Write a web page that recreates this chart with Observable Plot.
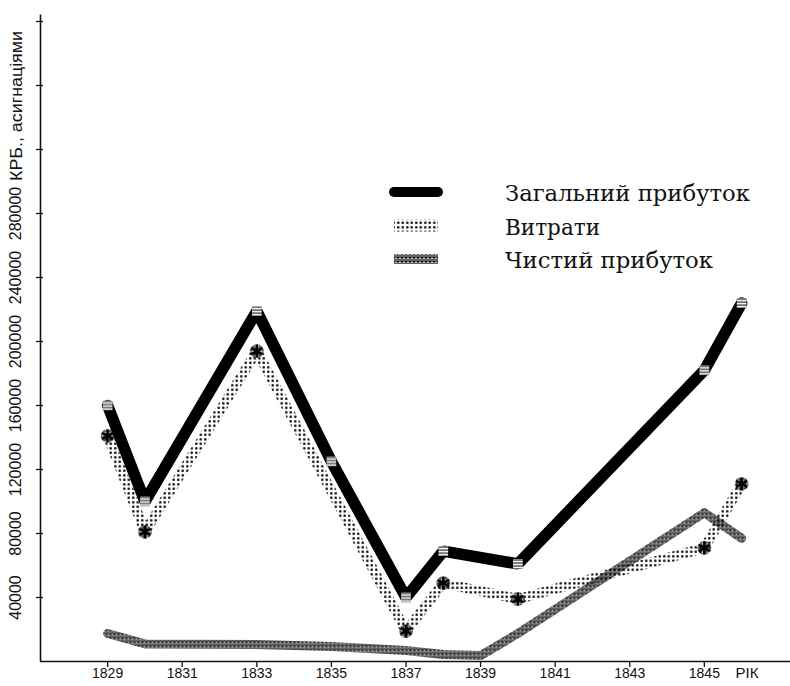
<!DOCTYPE html>
<html><head><meta charset="utf-8">
<script src="https://cdn.jsdelivr.net/npm/d3@7"></script>
<script src="https://cdn.jsdelivr.net/npm/@observablehq/plot@0.6"></script>
<style>
body{margin:0;background:#fff;}
#wrap{position:relative;width:790px;height:686px;overflow:hidden;}
#legend{position:absolute;left:0;top:0;pointer-events:none;}
</style></head><body><div id="wrap"></div>
<script>
// ---- data ----
const years = [1829, 1830, 1833, 1835, 1837, 1838, 1840, 1845, 1846];
const totalIncome = [160000, 100000, 219000, 125000, 40000, 69000, 61000, 182000, 224000];
const expenseYears = [1829, 1830, 1833, 1837, 1838, 1840, 1845, 1846];
const expenses = [141000, 81000, 194000, 19000, 49000, 39000, 71000, 111000];
const netYears = [1829, 1830, 1833, 1835, 1837, 1838, 1839, 1840, 1845, 1846];
const netIncome = [17500, 11000, 10600, 9400, 6900, 4400, 3700, 17500, 93000, 77000];
const seriesNames = ["Загальний прибуток", "Витрати", "Чистий прибуток"];
const xTickYears = [1829, 1831, 1833, 1835, 1837, 1839, 1841, 1843, 1845];
const yTickValues = [40000, 80000, 120000, 160000, 200000, 240000, 280000, 320000, 360000, 400000];
const yLabelValues = [40000, 80000, 120000, 160000, 200000, 240000, 280000];
const yTitle = "КРБ., асигнаціями";
const xTitle = "РІК";

const xDomain = [1827.2, 1847.31];
const yDomain = [0, 400000];

const total = years.map((year, i) => ({year, value: totalIncome[i]}));
const exp = expenseYears.map((year, i) => ({year, value: expenses[i]}));
const net = netYears.map((year, i) => ({year, value: netIncome[i]}));

const sans = "'Liberation Sans', Arial, sans-serif";

const chart = Plot.plot({
  width: 790, height: 686,
  marginLeft: 40, marginRight: 0, marginTop: 21, marginBottom: 25,
  x: {domain: xDomain, axis: null, label: null},
  y: {domain: yDomain, axis: null, label: null},
  style: {background: "white", fontFamily: sans, color: "#111"},
  marks: [
    Plot.ruleY([yDomain[0]], {stroke: "#111", strokeWidth: 1.6}),
    Plot.ruleX([xDomain[0]], {y1: yDomain[0], y2: 404000, stroke: "#111", strokeWidth: 1.6}),
    Plot.axisX({ticks: xTickYears, tickSize: 6, tickFormat: () => "", label: null, stroke: "#111", strokeWidth: 1.3}),
    Plot.axisY({ticks: yTickValues, tickSize: 7, dx: 3, tickFormat: () => "", label: null, stroke: "#111", strokeWidth: 1.3}),
    Plot.text(xTickYears, {x: d => d, frameAnchor: "bottom", dy: 16, text: d => String(d), fontSize: 14, fill: "#111"}),
    Plot.text([xTitle], {frameAnchor: "bottom-right", dx: -32, dy: 16, textAnchor: "end", fontSize: 15, fill: "#111"}),
    Plot.text(yLabelValues, {y: d => d, frameAnchor: "left", dx: -25, rotate: -90, textAnchor: "middle", lineAnchor: "middle", text: d => String(d), fontSize: 16, fill: "#111"}),
    Plot.line(net, {x: "year", y: "value", stroke: "url(#hatch)", strokeWidth: 9, strokeLinejoin: "round"}),
    Plot.line(exp, {x: "year", y: "value", stroke: "url(#dots)", strokeWidth: 10, strokeLinejoin: "round"}),
    Plot.line(total, {x: "year", y: "value", stroke: "#000", strokeWidth: 11.5, strokeLinejoin: "miter"}),
    Plot.dot(total, {x: "year", y: "value", symbol: "square", r: 5.5, fill: "url(#stripes)"}),
    Plot.dot(exp, {x: "year", y: "value", r: 7, fill: "url(#dense)"}),
    Plot.dot(exp, {x: "year", y: "value", symbol: "asterisk", r: 6, stroke: "#000", strokeWidth: 2.4})
  ]
});

const svg = d3.select(chart);
const defs = svg.insert("defs", ":first-child");
const pDots = defs.append("pattern").attr("id", "dots").attr("patternUnits", "userSpaceOnUse").attr("width", 4.5).attr("height", 4.5);
pDots.append("circle").attr("cx", 2.25).attr("cy", 2.25).attr("r", 1.35).attr("fill", "#111");
const pDense = defs.append("pattern").attr("id", "dense").attr("patternUnits", "userSpaceOnUse").attr("width", 3).attr("height", 3);
pDense.append("circle").attr("cx", 1.5).attr("cy", 1.5).attr("r", 1.2).attr("fill", "#111");
const pHatch = defs.append("pattern").attr("id", "hatch").attr("patternUnits", "userSpaceOnUse").attr("width", 4).attr("height", 4);
pHatch.append("rect").attr("width", 4).attr("height", 4).attr("fill", "#bbb");
pHatch.append("path").attr("d", "M0.5,0.5L3.5,3.5M3.5,0.5L0.5,3.5").attr("stroke", "#000").attr("stroke-width", 1.3);
const pStripes = defs.append("pattern").attr("id", "stripes").attr("patternUnits", "userSpaceOnUse").attr("width", 4).attr("height", 3);
pStripes.append("rect").attr("width", 4).attr("height", 3).attr("fill", "#fff");
pStripes.append("rect").attr("y", 1.5).attr("width", 4).attr("height", 1.1).attr("fill", "#111");

const wrap = document.getElementById("wrap");
wrap.appendChild(chart);

// ---- overlay: y-axis title and legend (inside plot area as in the reference) ----
const lg = d3.select(wrap).append("svg").attr("id", "legend").attr("width", 790).attr("height", 686);
lg.append("text").attr("transform", "translate(16,106) rotate(-90)")
  .attr("text-anchor", "middle").attr("dominant-baseline", "central")
  .attr("font-family", sans).attr("font-size", 16).attr("fill", "#111")
  .attr("textLength", 150).attr("lengthAdjust", "spacingAndGlyphs").text(yTitle);

const strokes = [{stroke: "#000", w: 10, cap: "round"}, {stroke: "url(#dots)", w: 12, cap: "butt"}, {stroke: "url(#hatch)", w: 10, cap: "butt"}];
const lengths = [245, 95, 208];
seriesNames.forEach((name, i) => {
  const cy = 192 + i * 33.5;
  lg.append("line").attr("x1", 394).attr("x2", 438).attr("y1", cy).attr("y2", cy)
    .attr("stroke", strokes[i].stroke).attr("stroke-width", strokes[i].w).attr("stroke-linecap", strokes[i].cap);
  lg.append("text").attr("x", 505).attr("y", cy + 9).text(name)
    .attr("font-family", "'DejaVu Serif', 'Liberation Serif', serif").attr("font-size", 23)
    .attr("textLength", lengths[i]).attr("lengthAdjust", "spacingAndGlyphs").attr("fill", "#111");
});
</script></body></html>
